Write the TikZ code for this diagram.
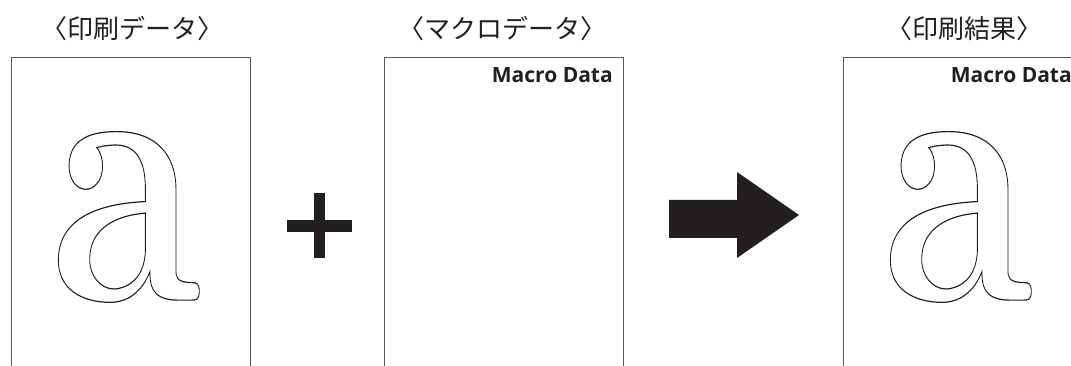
\documentclass[tikz,border=0pt]{standalone}
\usepackage{fontspec}
\newfontfamily\jpfont{Noto Sans CJK JP}
\newfontfamily\tagfont{Open Sans}
\newfontfamily\glyphfont{lmroman10-bold.otf}
\definecolor{ink}{HTML}{231F20}
\newcommand{\hollowa}{\special{pdf:literal direct 1 Tr 1.2 w}a\special{pdf:literal direct 0 Tr}}
\tikzset{
	page/.style={draw=black!65, line width=1pt},
	caption/.style={font=\jpfont\fontsize{26}{26}\selectfont, text=ink, inner sep=0pt},
	macrotag/.style={font=\tagfont\bfseries\fontsize{21}{21}\selectfont, text=ink, inner sep=0pt, anchor=base east},
	glyph/.style={font=\glyphfont\fontsize{372}{372}\selectfont, text=ink, inner sep=0pt}
}
\begin{document}
\begin{tikzpicture}[x=1pt, y=-1pt]
					\useasboundingbox (0,0) rectangle (1071,366);
					\clip (0,0) rectangle (1071,366);
					\coordinate (P1) at (11,58);
					\coordinate (Q1) at (250,380);
					\coordinate (P2) at (384,58);
					\coordinate (Q2) at (623,380);
					\coordinate (P3) at (843,58);
					\coordinate (Q3) at (1082,380);
					\draw [page] (P1) rectangle (Q1);
					\draw [page] (P2) rectangle (Q2);
					\draw [page] (P3) rectangle (Q3);
					\node [caption] (cap1) at (132,29) {〈印刷データ〉};
					\node [caption] (cap2) at (502,29) {〈マクロデータ〉};
					\node [caption] (cap3) at (964,29) {〈印刷結果〉};
					\node [macrotag] (tag2) at (613,83) {Macro Data};
					\node [macrotag] (tag3) at (1072,83) {Macro Data};
					\node [glyph] (a1) at (126,217) {\scalebox{0.72}[1]{\hollowa}};
					\node [glyph] (a3) at (958,217) {\scalebox{0.72}[1]{\hollowa}};
					\fill [ink] (314,193) rectangle (325,258);
					\fill [ink] (287,220) rectangle (352,232);
					\fill [ink] (669,200) -- (737,200) -- (737,172) -- (799,215) -- (737,258) -- (737,238) -- (669,238) -- cycle;
				\end{tikzpicture}
\end{document}
